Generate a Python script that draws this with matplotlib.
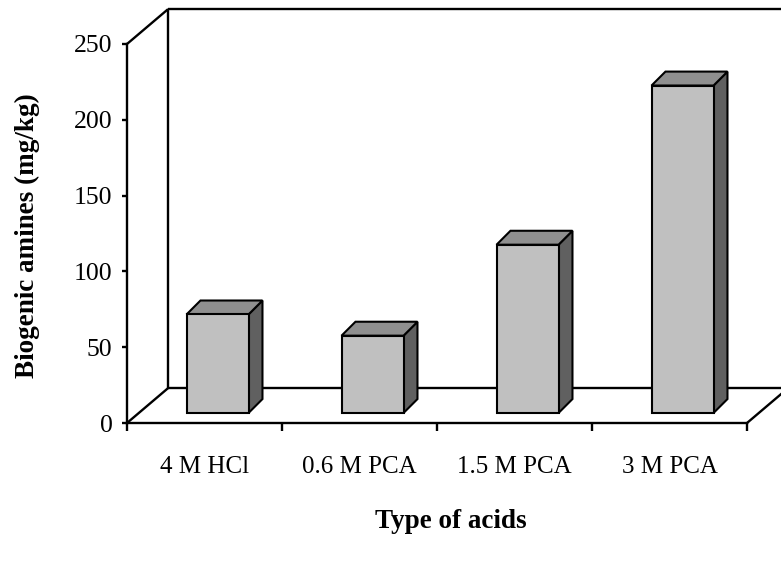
import matplotlib
matplotlib.use("Agg")
import matplotlib.pyplot as plt
from matplotlib.patches import Polygon
import numpy as np

plt.rcParams['font.family'] = ['Liberation Serif', 'DejaVu Serif']

# data
acids = ["4 M HCl", "0.6 M PCA", "1.5 M PCA", "3 M PCA"]
amines = [65, 51, 111, 216]

# oblique depth of floor / walls (x in category units, y in value units)
DX, DY = 0.265, 23.0
# where the bar sits in the depth, and how deep it is
BX, BY = 0.084, 6.6
SX, SY = 0.09, 9.2
BW = 0.4

fig = plt.figure(figsize=(7.81, 5.61), dpi=100)
ax = fig.add_axes([127/781, 1-423/561, 620/781, 379/561])
ax.set_xlim(0, 4)
ax.set_ylim(0, 250)

lw = 1.7
# back wall and floor
wall = dict(color="black", lw=lw, clip_on=False, solid_capstyle="butt")
ax.plot([0, DX], [250, 250+DY], **wall)
ax.plot([DX, DX], [DY, 250+DY], **wall)
ax.plot([DX, 4.4], [250+DY, 250+DY], **wall)
ax.plot([0, DX], [0, DY], **wall)
ax.plot([DX, 4.4], [DY, DY], **wall)
ax.plot([4, 4+DX], [0, DY], **wall)

# bars
for i, v in enumerate(amines):
    x0 = i + 0.5 - BW/2 + BX
    x1 = x0 + BW
    y0 = BY
    y1 = BY + v
    front = [(x0, y0), (x1, y0), (x1, y1), (x0, y1)]
    side = [(x1, y0), (x1+SX, y0+SY), (x1+SX, y1+SY), (x1, y1)]
    top = [(x0, y1), (x1, y1), (x1+SX, y1+SY), (x0+SX, y1+SY)]
    for pts, c in [(side, "#606060"), (top, "#8f8f8f"), (front, "#c0c0c0")]:
        ax.add_patch(Polygon(pts, closed=True, facecolor=c, edgecolor="black",
                             lw=1.5, joinstyle="miter", clip_on=False, zorder=3))

for s in ["top", "right"]:
    ax.spines[s].set_visible(False)
for s in ["left", "bottom"]:
    ax.spines[s].set_linewidth(lw)

ax.set_yticks(np.arange(0, 251, 50))
ax.tick_params(axis="y", direction="out", length=3.5, width=lw, pad=7, labelsize=18.5)
ax.set_xticks(range(5))
ax.set_xticklabels([])
ax.tick_params(axis="x", which="major", direction="out", length=6, width=lw)
ax.set_xticks(np.arange(4) + 0.5, acids, minor=True)
ax.tick_params(axis="x", which="minor", length=0, pad=24, labelsize=18)

fig.text(27/781, 1-236/561, "Biogenic amines (mg/kg)", rotation=90, fontsize=19.5,
         fontweight="bold", ha="center", va="center")
fig.text(451/781, 1-521/561, "Type of acids", fontsize=19.5, fontweight="bold",
         ha="center", va="center")

fig.savefig("out.png", dpi=100)
